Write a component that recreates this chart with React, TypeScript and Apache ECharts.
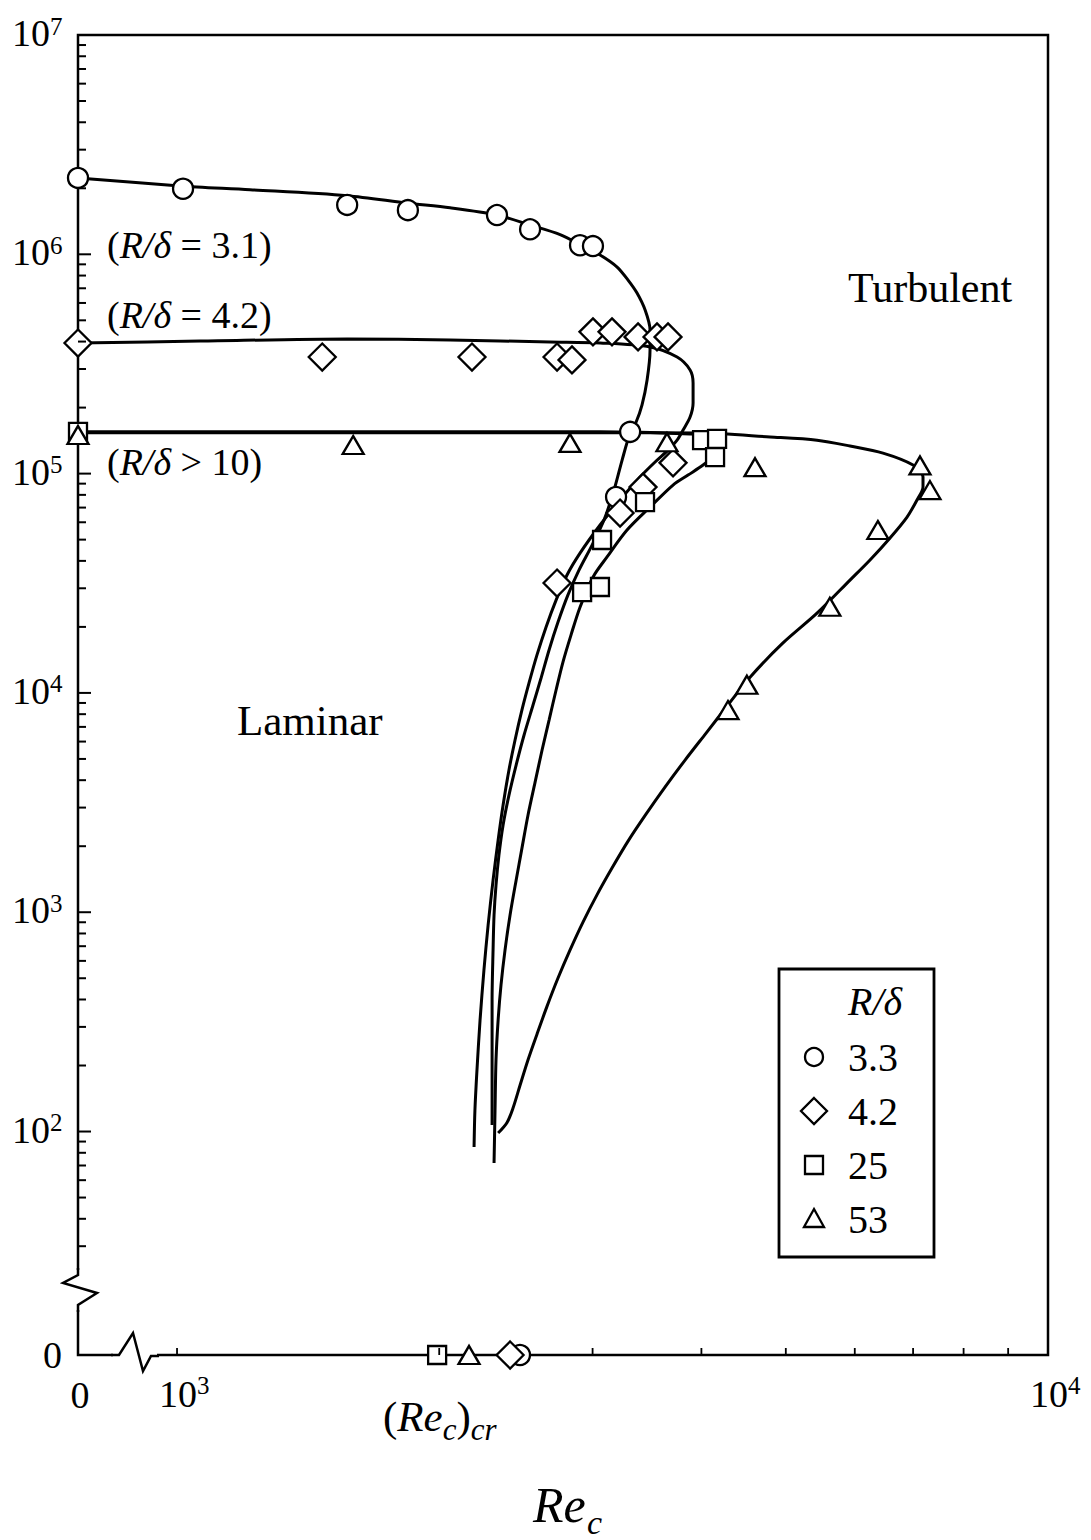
import React, { useEffect, useRef } from "react";
import * as echarts from "echarts";

const SERIF = '"Liberation Serif", "Times New Roman", Times, serif';

// Both axes are logarithmic and broken: the value 0 sits just below the first decade.
// Positions are in log10 units.
const X_ZERO = 2.8863;
const X_MAX = 4;
const Y_ZERO = 0.981;
const Y_MAX = 7;

// Measured points, [Re_c, ordinate]; a 0 means the point sits on the broken axis.
const circles33 = [
  [0, 2.23e6], [1016, 1.99e6], [1568, 1.68e6], [1841, 1.59e6], [2330, 1.51e6],
  [2543, 1.3e6], [2902, 1.1e6], [3003, 1.09e6], [3313, 1.55e5], [3192, 7.82e4], [2476, 0],
];
const diamonds42 = [
  [0, 3.94e5], [1468, 3.4e5], [2181, 3.4e5], [2731, 3.4e5], [2841, 3.3e5],
  [3003, 4.43e5], [3158, 4.43e5], [3383, 4.2e5], [3557, 4.2e5], [3662, 4.2e5],
  [3711, 1.12e5], [3428, 8.68e4], [3226, 6.61e4], [2731, 3.17e4], [2412, 0],
];
const squares25 = [
  [0, 1.55e5], [4007, 1.42e5], [4169, 1.44e5], [4147, 1.19e5], [3446, 7.41e4],
  [3076, 4.98e4], [2918, 2.88e4], [3059, 3.04e4], [1989, 0],
];
const triangles53 = [
  [0, 1.5e5], [1593, 1.35e5], [2826, 1.38e5], [3652, 1.39e5], [4609, 1.07e5],
  [7129, 1.09e5], [7319, 8.41e4], [6378, 5.53e4], [5617, 2.47e4], [4511, 1.09e4],
  [4291, 8.35e3], [2164, 0],
];

// Transition curves
const curveRd31 = [
  [0, 2.23e6], [1008, 2.05e6], [1213, 1.97e6], [1568, 1.85e6], [1841, 1.71e6],
  [2058, 1.63e6], [2330, 1.51e6], [2543, 1.36e6], [2753, 1.23e6], [2925, 1.09e6],
  [3060, 9.93e5], [3201, 8.75e5], [3295, 7.63e5], [3374, 6.66e5], [3447, 5.57e5],
  [3492, 4.52e5], [3492, 3.66e5], [3465, 2.67e5], [3419, 2.06e5], [3366, 1.72e5],
  [3313, 1.53e5], [3243, 1.15e5], [3175, 8.42e4], [3092, 6.14e4], [2996, 4.72e4],
  [2894, 3.63e4], [2811, 2.8e4], [2738, 2.105e4], [2674, 1.57e4], [2618, 1.169e4],
  [2563, 8.81e3], [2503, 6.43e3], [2451, 4.69e3], [2405, 3.42e3], [2368, 2.5e3],
  [2342, 1.82e3], [2324, 1.33e3], [2312, 971], [2306, 672], [2300, 398],
  [2300, 212], [2300, 107],
];
const curveRd42 = [
  [0, 3.94e5], [1063, 4.02e5], [1568, 4.11e5], [2058, 4.07e5], [2681, 3.98e5],
  [3060, 3.94e5], [3492, 3.78e5], [3751, 3.4e5], [3882, 2.97e5], [3913, 2.59e5],
  [3913, 2.1e5], [3882, 1.81e5], [3811, 1.58e5], [3751, 1.42e5], [3663, 1.28e5],
  [3539, 1.13e5], [3401, 9.65e4], [3226, 7.58e4], [3060, 5.83e4], [2902, 4.34e4],
  [2804, 3.45e4], [2724, 2.65e4], [2653, 2.0e4], [2590, 1.49e4], [2536, 1.11e4],
  [2489, 8.36e3], [2444, 6.1e3], [2405, 4.45e3], [2368, 3.08e3], [2337, 2.13e3],
  [2306, 1.4e3], [2276, 874], [2251, 545], [2228, 322], [2210, 191], [2198, 125],
  [2193, 85],
];
const curveRd25 = [
  [0, 1.55e5], [1384, 1.55e5], [2349, 1.55e5], [3060, 1.55e5], [3882, 1.515e5],
  [4093, 1.484e5], [4202, 1.394e5], [4180, 1.281e5], [4115, 1.191e5], [4018, 1.094e5],
  [3861, 9.85e4], [3711, 8.87e4], [3492, 7.04e4], [3286, 5.53e4], [3117, 4.17e4],
  [3004, 3.38e4], [2902, 2.46e4], [2834, 1.84e4], [2774, 1.383e4], [2724, 1.031e4],
  [2674, 7.52e3], [2625, 5.49e3], [2577, 3.92e3], [2529, 2.77e3], [2489, 1.96e3],
  [2451, 1.4e3], [2412, 971], [2380, 672], [2355, 466], [2337, 322], [2324, 212],
  [2318, 125], [2312, 71.8],
];
const curveRd53 = [
  [0, 1.535e5], [1384, 1.535e5], [2349, 1.535e5], [3060, 1.535e5], [3986, 1.53e5],
  [4795, 1.469e5], [5430, 1.42e5], [5925, 1.336e5], [6465, 1.24e5], [6999, 1.094e5],
  [7186, 9.65e4], [7186, 8.69e4], [7073, 7.58e4], [6889, 6.34e4], [6586, 5.09e4],
  [6247, 4.04e4], [5925, 3.27e4], [5430, 2.31e4], [4963, 1.69e4], [4549, 1.18e4],
  [4291, 8.81e3], [4050, 6.56e3], [3831, 4.94e3], [3633, 3.72e3], [3455, 2.8e3],
  [3295, 2.11e3], [3158, 1.59e3], [3035, 1.2e3], [2925, 902], [2826, 672],
  [2738, 501], [2660, 373], [2590, 278], [2529, 212], [2477, 163], [2431, 128],
  [2393, 110], [2337, 98.4],
];

// Axis ticks and labels
const yMajorExponents = [2, 3, 4, 5, 6, 7];
const yMinorTicks = [
  30, 40, 50, 60, 70, 80, 90,
  200, 300, 400, 500, 600, 700, 800, 900,
  2e3, 3e3, 4e3, 5e3, 6e3, 7e3, 8e3, 9e3,
  2e4, 3e4, 4e4, 5e4, 6e4, 7e4, 8e4, 9e4,
  2e5, 3e5, 4e5, 5e5, 6e5, 7e5, 8e5, 9e5,
  2e6, 3e6, 4e6, 5e6, 6e6, 7e6, 8e6, 9e6,
];
const xTicks = [1000, 2000, 3000, 4000, 5000, 6000, 7000, 8000, 9000];
const xMajorExponents = [3, 4];

const legendItems = [
  { name: "3.3", symbol: "circle" },
  { name: "4.2", symbol: "diamond" },
  { name: "25", symbol: "square" },
  { name: "53", symbol: "triangle" },
];

const toPoint = (d: number[]) => [
  d[0] > 0 ? Math.log10(d[0]) : X_ZERO,
  d[1] > 0 ? Math.log10(d[1]) : Y_ZERO,
];

const ink = "#000";

const textStyle = (text: string, size: number, align: string, extra: any = {}) => ({
  text,
  fill: ink,
  fontFamily: SERIF,
  fontSize: size,
  align,
  textAlign: align,
  verticalAlign: "middle",
  textVerticalAlign: "middle",
  ...extra,
});

const lineSeries = (name: string, data: number[][]) => ({
  type: "line",
  name,
  data: data.map(toPoint),
  symbol: "none",
  smooth: 0.3,
  clip: false,
  silent: true,
  z: 2,
  lineStyle: { color: ink, width: 3 },
});

const markerSeries = (name: string, data: number[][], symbol: string, size: any) => ({
  type: "scatter",
  name,
  data: data.map(toPoint),
  symbol,
  symbolSize: size,
  clip: false,
  silent: true,
  z: 3,
  itemStyle: { color: "#fff", borderColor: ink, borderWidth: 2.3, opacity: 1 },
});

const richLabel = (size: number) => ({
  n: { fontFamily: SERIF, fontSize: size, fill: ink, verticalAlign: "middle" },
  i: { fontFamily: SERIF, fontSize: size, fontStyle: "italic", fill: ink, verticalAlign: "middle" },
});

function legendMarker(symbol: string, cx: number, cy: number) {
  const style = { fill: "#fff", stroke: ink, lineWidth: 2.3 };
  if (symbol === "circle") return { type: "circle", shape: { cx, cy, r: 9 }, style, z: 101 };
  if (symbol === "square") return { type: "rect", shape: { x: cx - 9, y: cy - 9, width: 18, height: 18 }, style, z: 101 };
  if (symbol === "diamond")
    return { type: "polygon", shape: { points: [[cx, cy - 13], [cx + 13, cy], [cx, cy + 13], [cx - 13, cy]] }, style, z: 101 };
  return { type: "polygon", shape: { points: [[cx, cy - 10], [cx + 10, cy + 8], [cx - 10, cy + 8]] }, style, z: 101 };
}

function buildOption() {
  const yTickData = [
    ...yMajorExponents.map((e) => [X_ZERO, e, 1]),
    ...yMinorTicks.map((v) => [X_ZERO, Math.log10(v), 0]),
  ];
  const xTickData = xTicks.map((v) => [Math.log10(v), Y_ZERO]);
  const yLabelData = [...yMajorExponents.map((e) => [X_ZERO, e, e]), [X_ZERO, Y_ZERO, -1]];
  const xLabelData = [...xMajorExponents.map((e) => [e, Y_ZERO, e]), [X_ZERO, Y_ZERO, -1]];

  const legendTop = 1057;
  const legendStep = 54;

  return {
    animation: false,
    backgroundColor: "#fff",
    grid: {
      left: 78,
      right: 43,
      top: 35,
      bottom: 185,
      show: true,
      borderColor: ink,
      borderWidth: 2.5,
      backgroundColor: "transparent",
    },
    xAxis: {
      type: "value",
      min: X_ZERO,
      max: X_MAX,
      axisLine: { show: false },
      axisTick: { show: false },
      axisLabel: { show: false },
      splitLine: { show: false },
    },
    yAxis: {
      type: "value",
      min: Y_ZERO,
      max: Y_MAX,
      axisLine: { show: false },
      axisTick: { show: false },
      axisLabel: { show: false },
      splitLine: { show: false },
    },
    series: [
      {
        type: "custom",
        name: "y ticks",
        data: yTickData,
        clip: false,
        silent: true,
        z: 4,
        renderItem: (_p: any, api: any) => {
          const pt = api.coord([api.value(0), api.value(1)]);
          const len = api.value(2) ? 13 : 8;
          return {
            type: "line",
            shape: { x1: pt[0], y1: pt[1], x2: pt[0] + len, y2: pt[1] },
            style: { stroke: ink, lineWidth: 2 },
          };
        },
      },
      {
        type: "custom",
        name: "x ticks",
        data: xTickData,
        clip: false,
        silent: true,
        z: 4,
        renderItem: (_p: any, api: any) => {
          const pt = api.coord([api.value(0), api.value(1)]);
          return {
            type: "line",
            shape: { x1: pt[0], y1: pt[1], x2: pt[0], y2: pt[1] - 7 },
            style: { stroke: ink, lineWidth: 1.8 },
          };
        },
      },
      {
        type: "custom",
        name: "y labels",
        data: yLabelData,
        clip: false,
        silent: true,
        z: 4,
        renderItem: (_p: any, api: any) => {
          const pt = api.coord([api.value(0), api.value(1)]);
          const e = api.value(2);
          if (e < 0) {
            return { type: "text", x: pt[0] - 16, y: pt[1], style: textStyle("0", 38, "right") };
          }
          return {
            type: "group",
            children: [
              { type: "text", x: pt[0] - 28, y: pt[1] - 2, style: textStyle("10", 38, "right") },
              { type: "text", x: pt[0] - 28, y: pt[1] - 9, style: textStyle(String(e), 25, "left") },
            ],
          };
        },
      },
      {
        type: "custom",
        name: "x labels",
        data: xLabelData,
        clip: false,
        silent: true,
        z: 4,
        renderItem: (_p: any, api: any) => {
          const pt = api.coord([api.value(0), api.value(1)]);
          const e = api.value(2);
          if (e < 0) {
            return { type: "text", x: pt[0] + 2, y: pt[1] + 40, style: textStyle("0", 38, "center") };
          }
          return {
            type: "group",
            children: [
              { type: "text", x: pt[0] + 1, y: pt[1] + 39, style: textStyle("10", 38, "center") },
              { type: "text", x: pt[0] + 20, y: pt[1] + 30, style: textStyle(String(e), 25, "left") },
            ],
          };
        },
      },
      lineSeries("R/δ = 3.1", curveRd31),
      lineSeries("R/δ = 4.2", curveRd42),
      lineSeries("R/δ = 25", curveRd25),
      lineSeries("R/δ = 53", curveRd53),
      markerSeries("3.3", circles33, "circle", 20),
      markerSeries("4.2", diamonds42, "diamond", 27),
      markerSeries("25", squares25, "rect", 18),
      markerSeries("53", triangles53, "triangle", [21, 18]),
    ],
    graphic: [
      // break in the ordinate
      { type: "rect", shape: { x: 70, y: 1270, width: 16, height: 40 }, style: { fill: "#fff" }, z: 100 },
      {
        type: "polyline",
        shape: { points: [[78, 1268], [78, 1275], [63, 1283], [97, 1293], [78, 1305], [78, 1312]] },
        style: { stroke: ink, lineWidth: 2.5, fill: null },
        z: 101,
      },
      // break in the abscissa
      { type: "rect", shape: { x: 113, y: 1349, width: 44, height: 12 }, style: { fill: "#fff" }, z: 100 },
      {
        type: "polyline",
        shape: { points: [[111, 1355], [119, 1355], [133, 1333], [143, 1371], [151, 1356], [159, 1356]] },
        style: { stroke: ink, lineWidth: 2.5, fill: null },
        z: 101,
      },
      // curve labels
      {
        type: "text", x: 107, y: 245, z: 100,
        style: { ...textStyle("{n|(}{i|R/δ}{n| = 3.1)}", 38, "left"), rich: richLabel(38) },
      },
      {
        type: "text", x: 107, y: 315, z: 100,
        style: { ...textStyle("{n|(}{i|R/δ}{n| = 4.2)}", 38, "left"), rich: richLabel(38) },
      },
      {
        type: "text", x: 107, y: 462, z: 100,
        style: { ...textStyle("{n|(}{i|R/δ}{n| > 10)}", 38, "left"), rich: richLabel(38) },
      },
      // regime labels
      { type: "text", x: 848, y: 288, z: 100, style: textStyle("Turbulent", 42, "left") },
      { type: "text", x: 237, y: 720, z: 100, style: textStyle("Laminar", 43, "left") },
      // axis titles
      {
        type: "text", x: 383, y: 1416, z: 100,
        style: {
          ...textStyle("{n|(}{i|Re}{s|c}{n|)}{s|cr}", 43, "left"),
          rich: {
            ...richLabel(43),
            s: { fontFamily: SERIF, fontSize: 31, fontStyle: "italic", fill: ink, verticalAlign: "middle", padding: [26, 0, 0, 0] },
          },
        },
      },
      { type: "text", x: 533, y: 1505, z: 100, style: textStyle("Re", 50, "left", { fontStyle: "italic" }) },
      { type: "text", x: 587, y: 1522, z: 100, style: textStyle("c", 34, "left", { fontStyle: "italic" }) },
      // legend
      {
        type: "rect",
        shape: { x: 779, y: 969, width: 155, height: 288 },
        style: { fill: "#fff", stroke: ink, lineWidth: 2.8 },
        z: 100,
      },
      {
        type: "text", x: 848, y: 1001, z: 101,
        style: textStyle("R/δ", 40, "left", { fontStyle: "italic" }),
      },
      ...legendItems.map((it, k) => legendMarker(it.symbol, 814, legendTop + k * legendStep)),
      ...legendItems.map((it, k) => ({
        type: "text", x: 848, y: legendTop + k * legendStep, z: 101,
        style: textStyle(it.name, 40, "left"),
      })),
    ],
  };
}

export default function App() {
  const ref = useRef<HTMLDivElement>(null);
  useEffect(() => {
    if (!ref.current) return;
    const chart = echarts.init(ref.current, null, { renderer: "svg" });
    chart.setOption(buildOption() as any);
    return () => chart.dispose();
  }, []);
  return (
    <div
      ref={ref}
      style={{ position: "absolute", left: 0, top: 0, width: 1091, height: 1540, background: "#fff" }}
    />
  );
}
